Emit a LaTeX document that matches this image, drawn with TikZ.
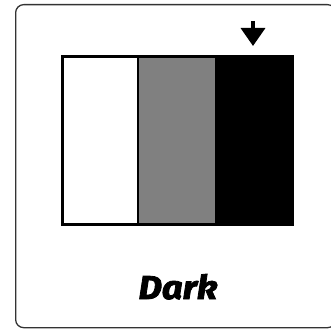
\documentclass[tikz,border=0pt]{standalone}
\usepackage{fontspec}
\newfontfamily\labelfont[FakeBold=2.5,FakeStretch=1.1]{Fira Sans}
\usetikzlibrary{arrows.meta}
\begin{document}
\begin{tikzpicture}[x=1pt,y=-1pt,
  frame/.style={draw=black!80, line width=1.3pt, rounded corners=8pt},
  label/.style={font=\labelfont\fontsize{33}{33}\selectfont\bfseries\itshape, anchor=base}]
\useasboundingbox (0,0) rectangle (331,329);
\begin{scope}
\clip (0,0) rectangle (331,329);
\node[frame, minimum width=320pt, minimum height=323pt, anchor=north west, inner sep=0pt] (card) at (15,4) {};
\end{scope}
\node[fill=white, draw=black, line width=0pt, minimum width=76pt, minimum height=168pt, anchor=north west, inner sep=0pt] (w) at (62,56) {};
\node[fill=black!50, minimum width=77pt, minimum height=168pt, anchor=north west, inner sep=0pt] (g) at (138,56) {};
\node[fill=black, minimum width=77pt, minimum height=168pt, anchor=north west, inner sep=0pt] (b) at (215,56) {};
\draw[line width=2pt] (w.north east) -- (w.south east);
\draw[line width=3pt] (w.north west) rectangle (b.south east);
\coordinate (atop) at (253,21);
\coordinate (abot) at (253,46);
\draw[line width=3.5pt, -{Triangle[width=24pt,length=18pt]}] (atop) -- (abot);
\node[label] (t) at (178,299) {Dark};
\end{tikzpicture}
\end{document}
